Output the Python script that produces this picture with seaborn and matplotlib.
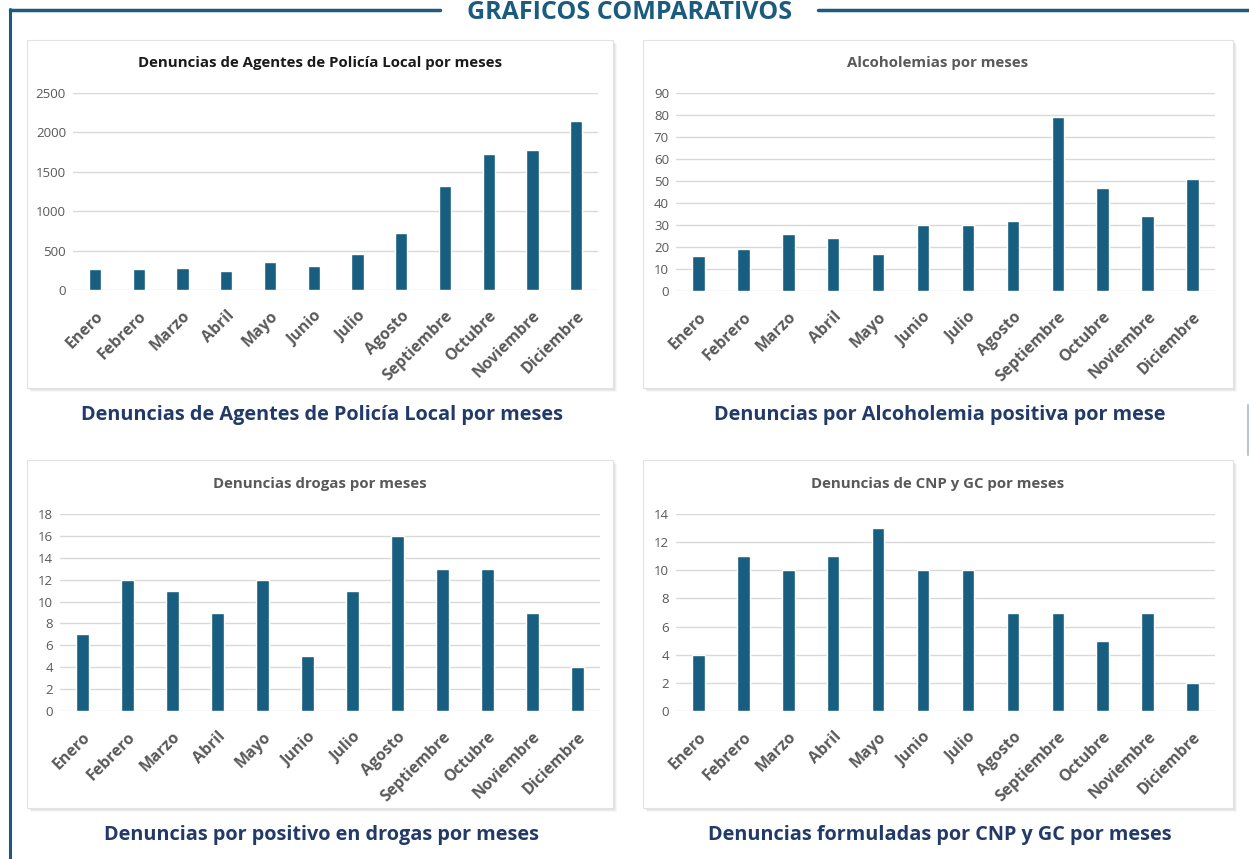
import matplotlib
matplotlib.use("Agg")
import matplotlib.pyplot as plt
from matplotlib.patches import Rectangle
from matplotlib.lines import Line2D
import pandas as pd
import seaborn as sns

meses = ['Enero', 'Febrero', 'Marzo', 'Abril', 'Mayo', 'Junio', 'Julio',
         'Agosto', 'Septiembre', 'Octubre', 'Noviembre', 'Diciembre']
policia_local = [265, 265, 285, 245, 350, 300, 455, 725, 1315, 1725, 1780, 2140]
alcoholemias = [16, 19, 26, 24, 17, 30, 30, 32, 79, 47, 34, 51]
drogas = [7, 12, 11, 9, 12, 5, 11, 16, 13, 13, 9, 4]
cnp_gc = [4, 11, 10, 11, 13, 10, 10, 7, 7, 5, 7, 2]

chart_titles = ['Denuncias de Agentes de Policía Local por meses',
                'Alcoholemias por meses',
                'Denuncias drogas por meses',
                'Denuncias de CNP y GC por meses']
captions = ['Denuncias de Agentes de Policía Local por meses',
            'Denuncias por Alcoholemia positiva por mese',
            'Denuncias por positivo en drogas por meses',
            'Denuncias formuladas por CNP y GC por meses']

sns.set_theme(style='white')
plt.rcParams['font.family'] = ['Open Sans', 'DejaVu Sans']

W, H = 1249, 859
fig = plt.figure(figsize=(W / 100, H / 100), dpi=100)
fig.patch.set_facecolor('white')

BAR = '#175e80'
NAVY = '#213a68'
TEAL = '#1b5c7e'
GRID = '#d9d9d9'
TICK = '#595959'


def fx(x):
    return x / W


def fy(y):
    return 1 - y / H


# outer frame
fig.add_artist(Line2D([fx(10), fx(440)], [fy(10), fy(10)], color=TEAL, lw=2.5))
fig.add_artist(Line2D([fx(818), fx(1249)], [fy(10), fy(10)], color=TEAL, lw=2.5))
fig.add_artist(Line2D([fx(10), fx(10)], [fy(9), fy(859)], color=TEAL, lw=2.2))
fig.add_artist(Line2D([fx(1248), fx(1248)], [fy(405), fy(455)], color='#a9cbe0', lw=1.5))
fig.text(fx(630), fy(19), 'GRAFICOS COMPARATIVOS', color=TEAL, fontsize=18,
         fontweight='bold', ha='center', va='baseline')

# panels: box (x0, y0, x1, y1), axes (x0, y0, x1, y1), ymax, ystep, title y
panels = [
    ((27, 40, 613, 388), (73, 93, 598, 290), 2500, 500, 63, policia_local),
    ((643, 40, 1233, 388), (676, 93, 1215, 291), 90, 10, 63, alcoholemias),
    ((27, 460, 613, 808), (60, 514, 600, 711), 18, 2, 484, drogas),
    ((643, 460, 1233, 808), (676, 514, 1215, 711), 14, 2, 484, cnp_gc),
]

for i, (box, axb, ymax, ystep, ty, vals) in enumerate(panels):
    bx0, by0, bx1, by1 = box
    # shadow
    for k, a in [(4, 0.06), (3, 0.08), (2, 0.10)]:
        fig.add_artist(Rectangle((fx(bx0 + k), fy(by1 + k)), fx(bx1 - bx0), (by1 - by0) / H,
                                 facecolor='#808080', edgecolor='none', alpha=a, zorder=-3))
    fig.add_artist(Rectangle((fx(bx0), fy(by1)), fx(bx1 - bx0), (by1 - by0) / H,
                             facecolor='white', edgecolor='#e2e2e2', lw=0.8, zorder=-2))

    ax0, ay0, ax1, ay1 = axb
    ax = fig.add_axes([fx(ax0), fy(ay1), fx(ax1 - ax0), (ay1 - ay0) / H])
    df = pd.DataFrame({'mes': meses, 'valor': vals})
    sns.barplot(data=df, x='mes', y='valor', color=BAR, width=0.28, saturation=1, ax=ax)
    ax.set_ylim(0, ymax)
    ax.set_yticks(range(0, ymax + 1, ystep))
    ax.set_xlim(-0.5, 11.5)
    ax.yaxis.grid(True, color=GRID, lw=1)
    ax.set_axisbelow(True)
    for s in ax.spines.values():
        s.set_visible(False)
    ax.set_xlabel('')
    ax.set_ylabel('')
    ax.set_facecolor('none')
    ax.tick_params(axis='y', length=0, labelsize=9.5, labelcolor=TICK, pad=5)
    ax.tick_params(axis='x', length=0, labelsize=11.4, labelcolor=TICK, pad=13)
    plt.setp(ax.get_xticklabels(), rotation=45, ha='right', rotation_mode='anchor',
             fontweight='bold')

    tcol = '#1a1a1a' if i == 0 else '#595959'
    fig.text(fx((bx0 + bx1) / 2), fy(ty), chart_titles[i], ha='center', va='center',
             fontsize=10.8, fontweight='bold', color=tcol)
    fig.text(fx((bx0 + bx1) / 2 + 2), fy(by1 + 27), captions[i], ha='center', va='center',
             fontsize=14.3, fontweight='bold', color=NAVY)

fig.savefig('out.png', dpi=100)
